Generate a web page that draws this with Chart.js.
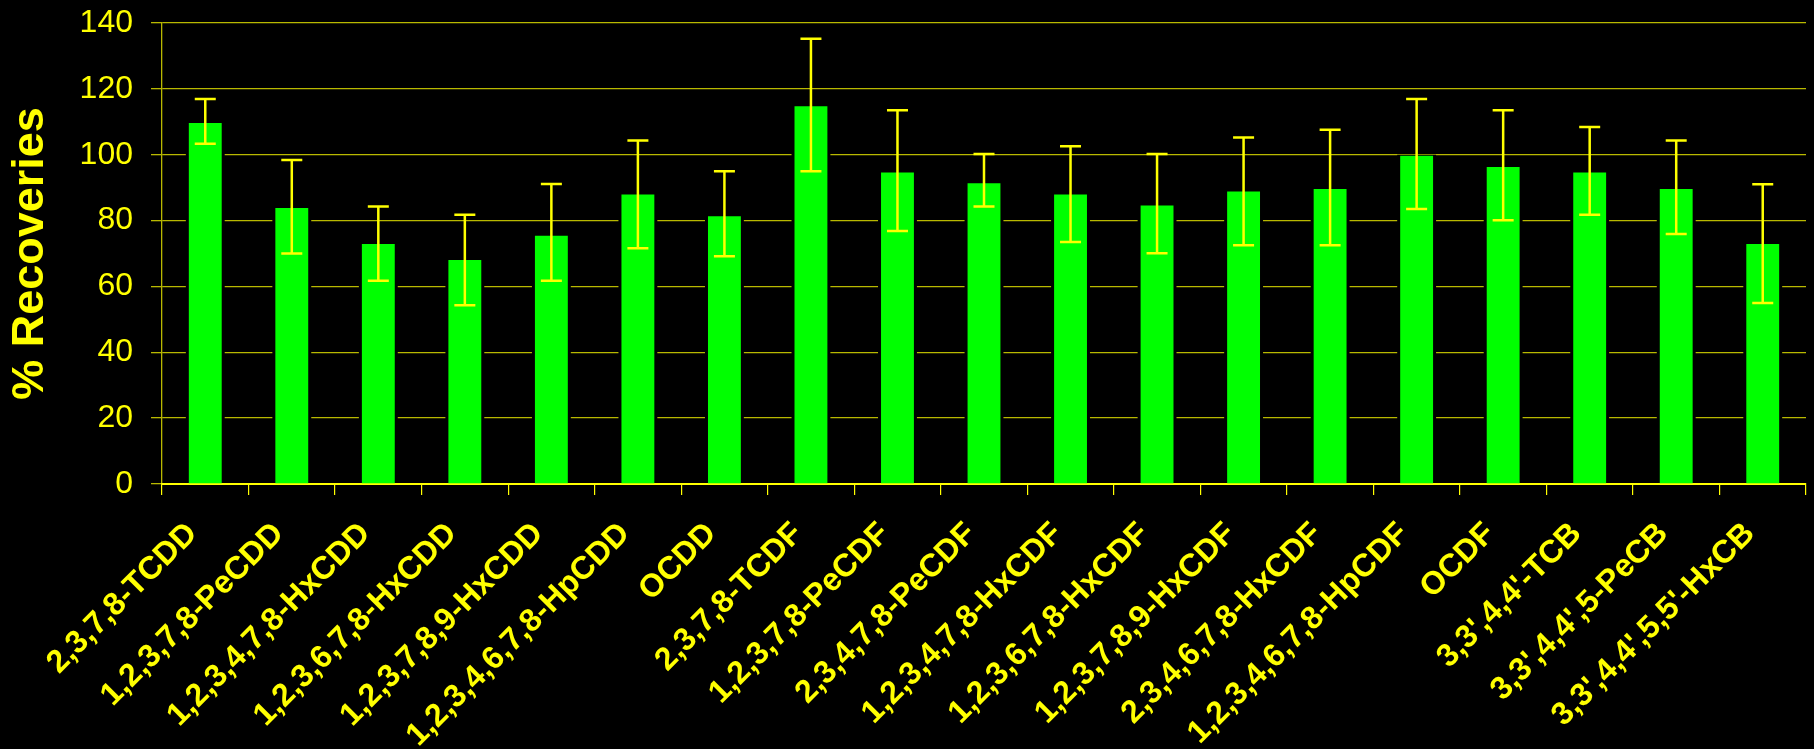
<!DOCTYPE html>
<html>
<head>
<meta charset="utf-8">
<script src="https://cdn.jsdelivr.net/npm/chart.js@4.4.1/dist/chart.umd.min.js"></script>
<style>
  html, body { margin: 0; padding: 0; background: #000; }
  #wrap { width: 1814px; height: 749px; position: relative; background: #000; }
</style>
</head>
<body>
<div id="wrap"><canvas id="c" width="1814" height="749"></canvas></div>
<script>
const categories = [
  '2,3,7,8-TCDD', '1,2,3,7,8-PeCDD', '1,2,3,4,7,8-HxCDD', '1,2,3,6,7,8-HxCDD',
  '1,2,3,7,8,9-HxCDD', '1,2,3,4,6,7,8-HpCDD', 'OCDD', '2,3,7,8-TCDF',
  '1,2,3,7,8-PeCDF', '2,3,4,7,8-PeCDF', '1,2,3,4,7,8-HxCDF', '1,2,3,6,7,8-HxCDF',
  '1,2,3,7,8,9-HxCDF', '2,3,4,6,7,8-HxCDF', '1,2,3,4,6,7,8-HpCDF', 'OCDF',
  "3,3',4,4'-TCB", "3,3',4,4',5-PeCB", "3,3',4,4',5,5'-HxCB"
];
const recovery = [109.6, 83.8, 72.9, 68.0, 75.4, 87.9, 81.3, 114.7, 94.6, 91.3, 87.9, 84.6, 88.8, 89.6, 99.7, 96.3, 94.6, 89.6, 72.9];
const errHigh  = [116.9, 98.4, 84.3, 81.8, 91.1, 104.3, 95.0, 135.2, 113.5, 100.2, 102.6, 100.2, 105.2, 107.6, 116.9, 113.5, 108.4, 104.3, 91.0];
const errLow   = [103.3, 70.0, 61.7, 54.3, 61.7, 71.6, 69.2, 95.0, 76.8, 84.3, 73.5, 70.1, 72.5, 72.5, 83.5, 80.1, 81.8, 75.9, 55.0];
const yTicks = [0, 20, 40, 60, 80, 100, 120, 140];
const yTitle = '% Recoveries';

const YELLOW = '#ffff00';
const GRID = 'rgba(255,255,0,0.72)';
const FONT = "'Liberation Sans', Arial, sans-serif";

// black gap around bars in the gridlines
const haloPlugin = {
  id: 'halo',
  beforeDatasetsDraw(chart) {
    const ctx = chart.ctx;
    const meta = chart.getDatasetMeta(0);
    ctx.save();
    ctx.fillStyle = '#000';
    meta.data.forEach(bar => {
      const w = bar.width + 6;
      ctx.fillRect(bar.x - w / 2, bar.y - 1, w, bar.base - bar.y - 1);
    });
    ctx.restore();
  }
};

const errorBarPlugin = {
  id: 'errorBars',
  afterDatasetsDraw(chart) {
    const ctx = chart.ctx;
    const y = chart.scales.y;
    const meta = chart.getDatasetMeta(0);
    ctx.save();
    ctx.strokeStyle = YELLOW;
    ctx.lineWidth = 2.5;
    meta.data.forEach((bar, i) => {
      const yHi = y.getPixelForValue(errHigh[i]);
      const yLo = y.getPixelForValue(errLow[i]);
      const x = bar.x;
      const cap = 10.5;
      ctx.beginPath();
      ctx.moveTo(x, yHi); ctx.lineTo(x, yLo);
      ctx.moveTo(x - cap, yHi); ctx.lineTo(x + cap, yHi);
      ctx.moveTo(x - cap, yLo); ctx.lineTo(x + cap, yLo);
      ctx.stroke();
    });
    ctx.restore();
  }
};

const bgPlugin = {
  id: 'bg',
  beforeDraw(chart) {
    const ctx = chart.ctx;
    ctx.save();
    ctx.fillStyle = '#000';
    ctx.fillRect(0, 0, chart.width, chart.height);
    ctx.restore();
  }
};

new Chart(document.getElementById('c'), {
  type: 'bar',
  data: {
    labels: categories,
    datasets: [{
      data: recovery,
      backgroundColor: '#00ff00',
      borderWidth: 0,
      barPercentage: 0.38,
      categoryPercentage: 1.0
    }]
  },
  options: {
    responsive: false,
    animation: false,
    devicePixelRatio: 1,
    layout: { padding: { left: 0, right: 8, top: 23, bottom: 0 } },
    plugins: { legend: { display: false }, tooltip: { enabled: false } },
    scales: {
      x: {
        grid: {
          display: true,
          drawOnChartArea: false,
          drawTicks: true,
          tickLength: 11,
          color: YELLOW,
          lineWidth: 1.2,
          offset: true
        },
        border: { display: true, color: YELLOW, width: 2 },
        ticks: {
          color: YELLOW,
          font: { family: FONT, size: 32, weight: 'bold' },
          minRotation: 45,
          maxRotation: 45,
          autoSkip: false,
          padding: 20,
          labelOffset: -13
        },
        afterFit(scale) {
          scale.height = 265;
          scale.paddingLeft = 0;
          scale.paddingRight = 0;
        }
      },
      y: {
        min: 0,
        max: 140,
        afterBuildTicks(scale) {
          scale.ticks = yTicks.map(v => ({ value: v }));
        },
        grid: {
          color: GRID,
          lineWidth: 1.3,
          drawTicks: true,
          tickLength: 11
        },
        border: { display: true, color: GRID, width: 1.3 },
        ticks: {
          color: YELLOW,
          font: { family: FONT, size: 32 },
          padding: 18
        },
        title: {
          display: true,
          text: yTitle,
          color: YELLOW,
          font: { family: FONT, size: 45, weight: 'bold' },
          padding: { top: 4, bottom: 0 }
        },
        afterFit(scale) {
          scale.width = 162;
          scale.paddingTop = 0;
          scale.paddingBottom = 0;
        }
      }
    }
  },
  plugins: [bgPlugin, haloPlugin, errorBarPlugin]
});
</script>
</body>
</html>
